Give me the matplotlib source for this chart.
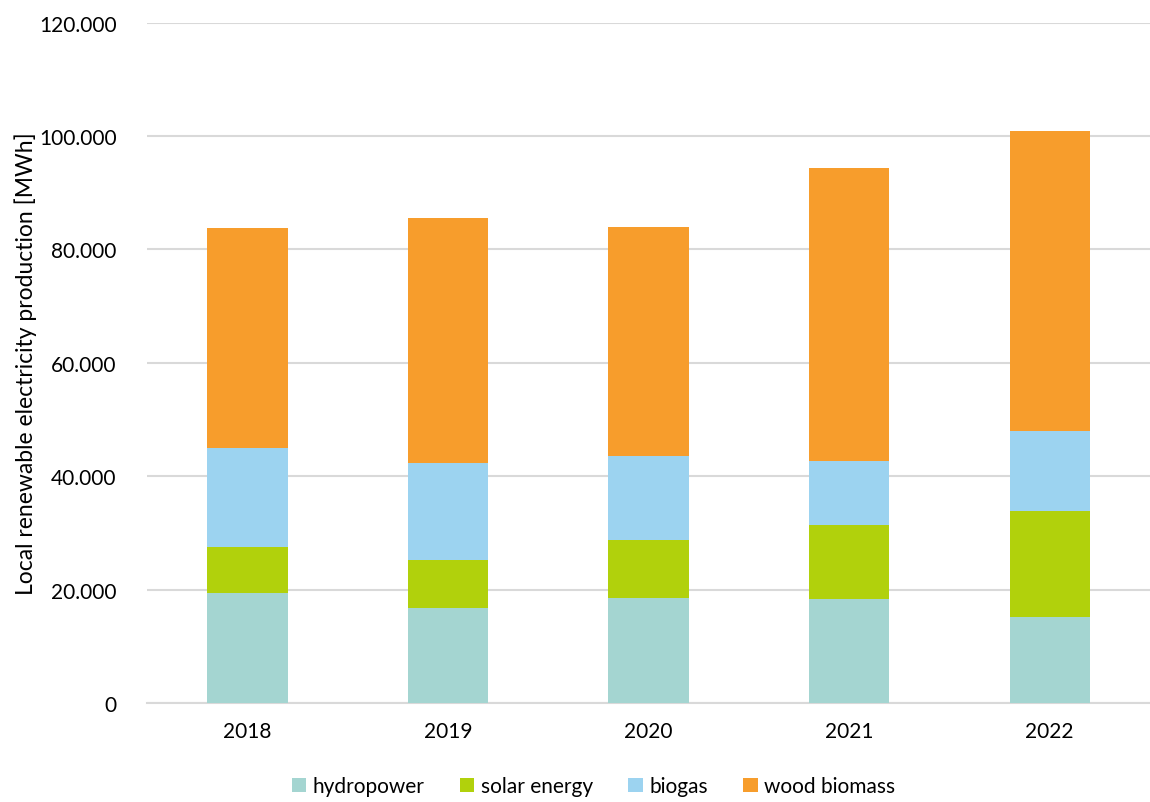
import matplotlib.pyplot as plt
from matplotlib.ticker import FuncFormatter, MultipleLocator
import numpy as np

years = ["2018", "2019", "2020", "2021", "2022"]
hydropower = [19450, 16810, 18520, 18400, 15170]
solar = [8010, 8460, 10170, 13050, 18690]
biogas = [17570, 17110, 14870, 11230, 14060]
wood = [38750, 43160, 40390, 51680, 53010]

series = [("hydropower", hydropower, "#a4d5d1"),
          ("solar energy", solar, "#b1d10c"),
          ("biogas", biogas, "#9cd3f0"),
          ("wood biomass", wood, "#f79d2c")]

plt.rcParams["font.family"] = ["Lato", "DejaVu Sans"]

fig = plt.figure(figsize=(11.5, 8.03), dpi=100)
ax = fig.add_axes([0.128, 0.1233, 0.872, 0.8474])

x = np.arange(len(years))
bottom = np.zeros(len(years))
for name, vals, col in series:
    ax.bar(x, vals, width=0.4, bottom=bottom, color=col, label=name, zorder=3)
    bottom += np.array(vals)

ax.set_xlim(-0.5, len(years) - 0.5)
ax.set_ylim(0, 120000)
ax.yaxis.set_major_locator(MultipleLocator(20000))
ax.yaxis.set_major_formatter(FuncFormatter(lambda v, p: f"{int(v):,}".replace(",", ".")))
ax.set_xticks(x)
ax.set_xticklabels(years)
ax.grid(axis="y", color="#d9d9d9", linewidth=1.5, zorder=0)
for s in ["top", "right", "left"]:
    ax.spines[s].set_visible(False)
ax.spines["bottom"].set_color("#d9d9d9")
ax.spines["bottom"].set_linewidth(1.5)
ax.tick_params(axis="both", length=0, labelsize=15, colors="#000000")
ax.tick_params(axis="y", pad=22)
ax.tick_params(axis="x", pad=13)
ax.set_ylabel("Local renewable electricity production [MWh]", fontsize=16.5)
ax.yaxis.set_label_coords(-0.11, 0.5)

ax.legend(loc="upper center", bbox_to_anchor=(0.445, -0.08), ncol=4, frameon=False,
          fontsize=15, handlelength=0.7, handleheight=0.7, handletextpad=0.3,
          columnspacing=1.7)

fig.savefig("out.png", dpi=100)
